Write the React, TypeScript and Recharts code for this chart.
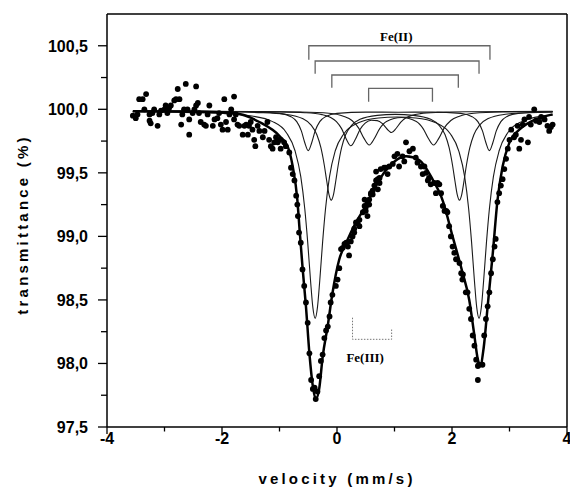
import React from 'react';
import {
  ComposedChart,
  Line,
  Scatter,
  XAxis,
  YAxis,
  ReferenceLine,
  ReferenceDot,
  Label,
} from 'recharts';

// axis ticks (minor ticks carry no label)
const xTicks = [-4, -3, -2, -1, 0, 1, 2, 3, 4];
const yTicks = [97.5, 97.75, 98, 98.25, 98.5, 98.75, 99, 99.25, 99.5, 99.75, 100, 100.25, 100.5];

// measured points [velocity mm/s, transmittance %]
const obsLeft = [
  [-3.55, 99.95], [-3.5, 99.93], [-3.47, 99.96], [-3.44, 100.08], [-3.38, 100.08], [-3.32, 100.12],
  [-3.35, 100.0], [-3.26, 99.96], [-3.26, 99.91], [-3.24, 99.89], [-3.21, 99.97], [-3.18, 100.0],
  [-3.12, 99.87], [-3.09, 99.96], [-3.06, 99.99], [-3.0, 100.0], [-2.98, 100.03], [-2.95, 99.97],
  [-2.92, 100.01], [-2.89, 100.03], [-2.83, 100.07], [-2.8, 100.08], [-2.77, 100.16], [-2.74, 100.08],
  [-2.71, 99.88], [-2.69, 99.96], [-2.66, 100.0], [-2.63, 100.2], [-2.6, 100.0], [-2.57, 99.8],
  [-2.57, 99.92], [-2.51, 99.97], [-2.48, 100.0], [-2.45, 100.03], [-2.45, 100.18], [-2.42, 100.05],
  [-2.4, 99.97], [-2.37, 99.9], [-2.31, 99.88], [-2.28, 99.87], [-2.25, 99.96], [-2.22, 100.03],
  [-2.16, 99.87], [-2.13, 99.92], [-2.08, 99.93], [-2.05, 99.97], [-2.02, 99.88], [-1.99, 99.84],
  [-1.96, 100.08], [-1.93, 99.9], [-1.9, 99.84], [-1.87, 99.96], [-1.84, 100.0], [-1.79, 100.1],
  [-1.79, 99.92], [-1.76, 99.96], [-1.73, 99.88], [-1.7, 99.87], [-1.64, 99.8], [-1.61, 99.87],
  [-1.58, 99.88], [-1.55, 99.8], [-1.53, 99.87], [-1.5, 99.9], [-1.47, 99.84], [-1.44, 99.76],
  [-1.42, 99.71], [-1.38, 99.87], [-1.35, 99.83], [-1.29, 99.78], [-1.26, 99.83], [-1.21, 99.9],
  [-1.18, 99.76], [-1.15, 99.71], [-1.12, 99.69], [-1.09, 99.74], [-1.06, 99.78], [-1.03, 99.74],
  [-1.0, 99.76], [-0.98, 99.69], [-0.92, 99.74], [-0.89, 99.71], [-0.83, 99.66], [-0.8, 99.54],
  [-0.77, 99.49], [-0.74, 99.44], [-0.71, 99.32], [-0.69, 99.25],
];
const obsDip = [
  [-0.68, 99.16], [-0.66, 99.03], [-0.63, 98.95], [-0.6, 98.74], [-0.57, 98.61], [-0.54, 98.48],
  [-0.51, 98.32], [-0.48, 98.08], [-0.45, 97.87], [-0.42, 97.8], [-0.39, 97.81], [-0.37, 97.72],
  [-0.34, 97.78], [-0.31, 97.9], [-0.28, 98.02], [-0.25, 98.07], [-0.22, 98.2], [-0.19, 98.26],
  [-0.16, 98.29], [-0.13, 98.37], [-0.11, 98.48], [-0.08, 98.54], [-0.02, 98.61], [0.01, 98.66],
  [0.04, 98.75], [0.07, 98.9], [0.1, 98.91], [0.13, 98.94], [0.16, 98.95], [0.19, 98.92],
  [0.21, 98.85], [0.24, 98.96], [0.27, 99.0], [0.3, 99.06], [0.33, 99.11], [0.36, 99.1],
  [0.39, 99.13], [0.45, 99.19], [0.48, 99.24], [0.5, 99.2], [0.53, 99.27], [0.56, 99.29],
  [0.59, 99.33], [0.62, 99.36], [0.65, 99.4], [0.68, 99.44], [0.71, 99.37], [0.74, 99.42],
];
const obsHump = [
  [0.3, 99.03], [0.39, 99.08], [0.48, 99.29], [0.5, 99.23], [0.53, 99.16], [0.56, 99.25],
  [0.59, 99.34], [0.62, 99.33], [0.68, 99.51], [0.71, 99.45], [0.74, 99.46], [0.76, 99.53],
  [0.82, 99.54], [0.85, 99.54], [0.88, 99.49], [0.91, 99.55], [0.97, 99.57], [1.0, 99.63],
  [1.05, 99.65], [1.17, 99.59], [1.52, 99.55], [1.58, 99.44], [1.75, 99.42], [1.81, 99.34],
  [1.87, 99.2], [2.19, 98.7],
];
const obsRight = [
  [1.08, 99.55], [1.14, 99.63], [1.2, 99.74], [1.26, 99.67], [1.32, 99.69], [1.37, 99.62],
  [1.4, 99.58], [1.46, 99.55], [1.49, 99.49], [1.55, 99.5], [1.6, 99.46], [1.63, 99.41],
  [1.69, 99.42], [1.72, 99.34], [1.78, 99.41], [1.84, 99.24], [1.9, 99.2], [1.92, 99.19],
  [1.95, 99.08], [1.98, 99.0], [2.01, 98.92], [2.04, 98.87], [2.07, 98.82], [2.13, 98.79],
  [2.16, 98.71], [2.18, 98.66], [2.24, 98.56], [2.27, 98.56], [2.3, 98.43], [2.33, 98.35],
  [2.36, 98.22], [2.39, 98.14], [2.42, 98.03], [2.45, 97.98], [2.47, 97.99], [2.53, 97.99],
  [2.45, 97.87], [2.56, 98.22], [2.59, 98.35], [2.62, 98.45], [2.65, 98.56], [2.68, 98.71],
  [2.71, 98.82], [2.74, 98.92], [2.76, 98.98], [2.79, 99.27], [2.82, 99.34], [2.85, 99.4],
  [2.88, 99.45], [2.91, 99.53], [2.94, 99.61], [2.97, 99.69], [3.0, 99.76], [3.03, 99.84],
  [3.08, 99.78], [3.11, 99.8], [3.14, 99.87], [3.17, 99.69], [3.2, 99.76], [3.23, 99.88],
  [3.26, 99.92], [3.32, 99.74], [3.34, 99.94], [3.37, 99.88], [3.43, 100.0], [3.46, 99.91],
  [3.52, 99.9], [3.55, 99.94], [3.61, 99.92], [3.66, 99.87], [3.69, 99.83], [3.72, 99.86],
  [3.75, 99.88],
];

// total fit (thick line)
const fitTotal = [
  [-3.55, 99.985], [-2.5, 99.982], [-1.8, 99.97], [-1.35, 99.9], [-1.0, 99.79], [-0.86, 99.71],
  [-0.77, 99.55], [-0.69, 99.29], [-0.65, 99.05], [-0.6, 98.76], [-0.54, 98.45], [-0.48, 98.08],
  [-0.42, 97.82], [-0.37, 97.72], [-0.31, 97.8], [-0.25, 98.05], [-0.16, 98.3], [-0.08, 98.55],
  [0.04, 98.82], [0.16, 98.95], [0.33, 99.11], [0.5, 99.24], [0.68, 99.4], [0.85, 99.52],
  [1.0, 99.59], [1.2, 99.63], [1.43, 99.6], [1.66, 99.45], [1.84, 99.28], [2.01, 99.0],
  [2.18, 98.72], [2.3, 98.5], [2.38, 98.25], [2.45, 98.03], [2.49, 97.98], [2.55, 98.12],
  [2.62, 98.45], [2.71, 98.87], [2.79, 99.28], [2.88, 99.55], [3.0, 99.74], [3.17, 99.84],
  [3.4, 99.91], [3.75, 99.96],
];

// sub-spectra (thin lines)
const feII1 = [
  [-3.55, 99.985], [-1.5, 99.981], [-1.0, 99.968], [-0.8, 99.942], [-0.7, 99.903], [-0.62, 99.83],
  [-0.56, 99.737], [-0.5, 99.675], [-0.44, 99.737], [-0.38, 99.83], [-0.3, 99.903], [-0.2, 99.942],
  [0, 99.968], [0.5, 99.978], [1.07, 99.977], [1.65, 99.978], [2.15, 99.968], [2.35, 99.942],
  [2.45, 99.903], [2.53, 99.83], [2.59, 99.737], [2.65, 99.675], [2.71, 99.737], [2.77, 99.83],
  [2.85, 99.903], [2.95, 99.942], [3.15, 99.968], [3.65, 99.981], [3.75, 99.982],
];
const feII2 = [
  [-3.55, 99.981], [-2.88, 99.977], [-1.98, 99.967], [-1.48, 99.947], [-1.13, 99.905], [-0.88, 99.816],
  [-0.73, 99.674], [-0.63, 99.47], [-0.56, 99.216], [-0.51, 98.957], [-0.46, 98.651], [-0.42, 98.441],
  [-0.38, 98.355], [-0.34, 98.441], [-0.3, 98.651], [-0.25, 98.957], [-0.2, 99.216], [-0.13, 99.47],
  [-0.03, 99.674], [0.12, 99.808], [0.37, 99.894], [0.72, 99.932], [1.045, 99.939], [1.37, 99.932],
  [1.72, 99.894], [1.97, 99.808], [2.12, 99.669], [2.22, 99.47], [2.29, 99.216], [2.34, 98.957],
  [2.39, 98.651], [2.43, 98.441], [2.47, 98.355], [2.51, 98.441], [2.55, 98.651], [2.6, 98.957],
  [2.65, 99.216], [2.72, 99.47], [2.82, 99.674], [2.97, 99.816], [3.22, 99.905], [3.57, 99.947],
  [3.75, 99.955],
];
const feII3 = [
  [-3.55, 99.983], [-2.1, 99.981], [-1.3, 99.974], [-0.9, 99.961], [-0.6, 99.927], [-0.45, 99.876],
  [-0.35, 99.8], [-0.28, 99.698], [-0.22, 99.558], [-0.18, 99.44], [-0.14, 99.331], [-0.1, 99.285],
  [-0.06, 99.331], [-0.02, 99.44], [0.02, 99.558], [0.08, 99.698], [0.15, 99.8], [0.25, 99.871],
  [0.4, 99.921], [0.7, 99.952], [1.015, 99.96], [1.33, 99.952], [1.63, 99.921], [1.78, 99.871],
  [1.88, 99.8], [1.95, 99.698], [2.01, 99.558], [2.05, 99.44], [2.09, 99.331], [2.13, 99.285],
  [2.17, 99.331], [2.21, 99.44], [2.25, 99.558], [2.31, 99.698], [2.38, 99.8], [2.48, 99.876],
  [2.63, 99.927], [2.93, 99.961], [3.33, 99.974], [3.75, 99.978],
];
const feII4 = [
  [-3.55, 99.984], [-1.44, 99.983], [-0.64, 99.979], [-0.14, 99.969], [0.11, 99.946], [0.26, 99.912],
  [0.38, 99.85], [0.47, 99.771], [0.56, 99.719], [0.65, 99.77], [0.74, 99.846], [0.86, 99.904],
  [1.12, 99.936], [1.38, 99.904], [1.5, 99.846], [1.59, 99.77], [1.68, 99.719], [1.77, 99.771],
  [1.86, 99.85], [1.98, 99.912], [2.13, 99.946], [2.38, 99.969], [2.88, 99.979], [3.75, 99.983],
];
const feIII = [
  [-3.55, 99.984], [-1.76, 99.983], [-1.06, 99.98], [-0.56, 99.973], [-0.26, 99.958], [-0.11, 99.936],
  [-0.01, 99.904], [0.08, 99.848], [0.16, 99.767], [0.24, 99.713], [0.32, 99.764], [0.4, 99.841],
  [0.49, 99.891], [0.595, 99.914], [0.7, 99.911], [0.79, 99.887], [0.87, 99.845], [0.95, 99.817],
  [1.03, 99.851], [1.11, 99.899], [1.2, 99.933], [1.3, 99.952], [1.45, 99.966], [1.75, 99.976],
  [2.25, 99.981], [3.75, 99.984],
];

// doublet markers: [left line, right line, bar level, leg end]
const feIIMarks = [
  [-0.49, 2.66, 100.5, 100.39],
  [-0.38, 2.47, 100.38, 100.28],
  [-0.09, 2.11, 100.27, 100.17],
  [0.55, 1.66, 100.165, 100.06],
];
const feIIIMark = [[0.27, 98.36], [0.27, 98.19], [0.95, 98.19], [0.95, 98.27]];

const rows = (pts: number[][]) => pts.map(([v, t]) => ({ v, t }));
const markRows = ([l, r, top, end]: number[]) => [
  { v: l, t: end }, { v: l, t: top }, { v: r, t: top }, { v: r, t: end },
];

const obsRows = rows([...obsLeft, ...obsDip, ...obsHump, ...obsRight]);
const subSpectra = [feII1, feII2, feII3, feII4, feIII];

const sans = '"Liberation Sans", Arial, sans-serif';
const serif = '"Liberation Serif", "Times New Roman", serif';

const YTick = (props: any) => {
  const { x, y, payload } = props;
  const ax = x + 19;
  const major = Math.round(payload.value * 100) % 50 === 0;
  return (
    <g>
      <line x1={ax - (major ? 9 : 6)} x2={ax} y1={y} y2={y} stroke="#000" strokeWidth={1.3} />
      {major && (
        <text x={x} y={y} dy="0.36em" textAnchor="end" fontFamily={sans} fontWeight="bold" fontSize={16} fill="#000">
          {payload.value.toFixed(1).replace('.', ',')}
        </text>
      )}
    </g>
  );
};

const XTick = (props: any) => {
  const { x, y, payload } = props;
  const ay = y - 7;
  const major = payload.value % 2 === 0;
  return (
    <g>
      <line x1={x} x2={x} y1={ay} y2={ay + (major ? 7 : 4.5)} stroke="#000" strokeWidth={1.3} />
      {major && (
        <text x={x} y={ay + 16.5} textAnchor="middle" fontFamily={sans} fontWeight="bold" fontSize={16} fill="#000">
          {payload.value}
        </text>
      )}
    </g>
  );
};

const Dot = (p: any) => <circle cx={p.cx} cy={p.cy} r={2.9} fill="#000" />;

export default function App() {
  return (
    <div style={{ position: 'absolute', left: 0, top: 0 }}>
      <ComposedChart width={570} height={488} margin={{ top: 14, right: 3, bottom: 0, left: 0 }}>
        <XAxis
          type="number"
          dataKey="v"
          domain={[-4, 4]}
          ticks={xTicks}
          interval={0}
          allowDataOverflow
          height={61}
          tickSize={7}
          tickMargin={0}
          tickLine={false}
          tick={<XTick />}
          axisLine={{ stroke: '#000', strokeWidth: 1.5 }}
        >
          <Label
            content={({ viewBox }: any) => (
              <text
                x={viewBox.x + viewBox.width / 2}
                y={viewBox.y + 57}
                textAnchor="middle"
                fontFamily={sans}
                fontWeight="bold"
                fontSize={15}
                letterSpacing={3.2}
                fill="#000"
              >
                velocity (mm/s)
              </text>
            )}
          />
        </XAxis>
        <YAxis
          type="number"
          domain={[97.5, 100.75]}
          ticks={yTicks}
          interval={0}
          allowDataOverflow
          width={107}
          tickSize={9}
          tickMargin={10}
          tickLine={false}
          tick={<YTick />}
          axisLine={{ stroke: '#000', strokeWidth: 1.5 }}
        >
          <Label
            content={({ viewBox }: any) => {
              const cx = viewBox.x + 22;
              const cy = viewBox.y + viewBox.height / 2 + 4;
              return (
                <text
                  transform={`translate(${cx},${cy}) rotate(-90)`}
                  textAnchor="middle"
                  dominantBaseline="central"
                  fontFamily={sans}
                  fontWeight="bold"
                  fontSize={15}
                  letterSpacing={3.2}
                  fill="#000"
                >
                  transmittance (%)
                </text>
              );
            }}
          />
        </YAxis>
        <ReferenceLine y={100.75} stroke="#000" strokeWidth={1.5} />
        <ReferenceLine x={4} stroke="#000" strokeWidth={1.5} />

        {subSpectra.map((s, i) => (
          <Line
            key={`sub${i}`}
            data={rows(s)}
            dataKey="t"
            type="monotone"
            dot={false}
            stroke="#1a1a1a"
            strokeWidth={1.1}
            isAnimationActive={false}
          />
        ))}

        {feIIMarks.map((m, i) => (
          <Line
            key={`mark${i}`}
            data={markRows(m)}
            dataKey="t"
            type="linear"
            dot={false}
            stroke="#666"
            strokeWidth={1.3}
            isAnimationActive={false}
          />
        ))}
        <Line
          data={rows(feIIIMark)}
          dataKey="t"
          type="linear"
          dot={false}
          stroke="#777"
          strokeWidth={1}
          strokeDasharray="1.5 1.5"
          isAnimationActive={false}
        />

        <Scatter data={obsRows} dataKey="t" shape={<Dot />} isAnimationActive={false} />
        <Line
          data={rows(fitTotal)}
          dataKey="t"
          type="monotone"
          dot={false}
          stroke="#000"
          strokeWidth={2.5}
          isAnimationActive={false}
        />

        <ReferenceDot x={1.03} y={100.57} r={0} fill="none" stroke="none">
          <Label value="Fe(II)" position="center" fontFamily={serif} fontWeight="bold" fontSize={13} fill="#000" />
        </ReferenceDot>
        <ReferenceDot x={0.49} y={98.05} r={0} fill="none" stroke="none">
          <Label value="Fe(III)" position="center" fontFamily={serif} fontWeight="bold" fontSize={13} fill="#000" />
        </ReferenceDot>
      </ComposedChart>
    </div>
  );
}
